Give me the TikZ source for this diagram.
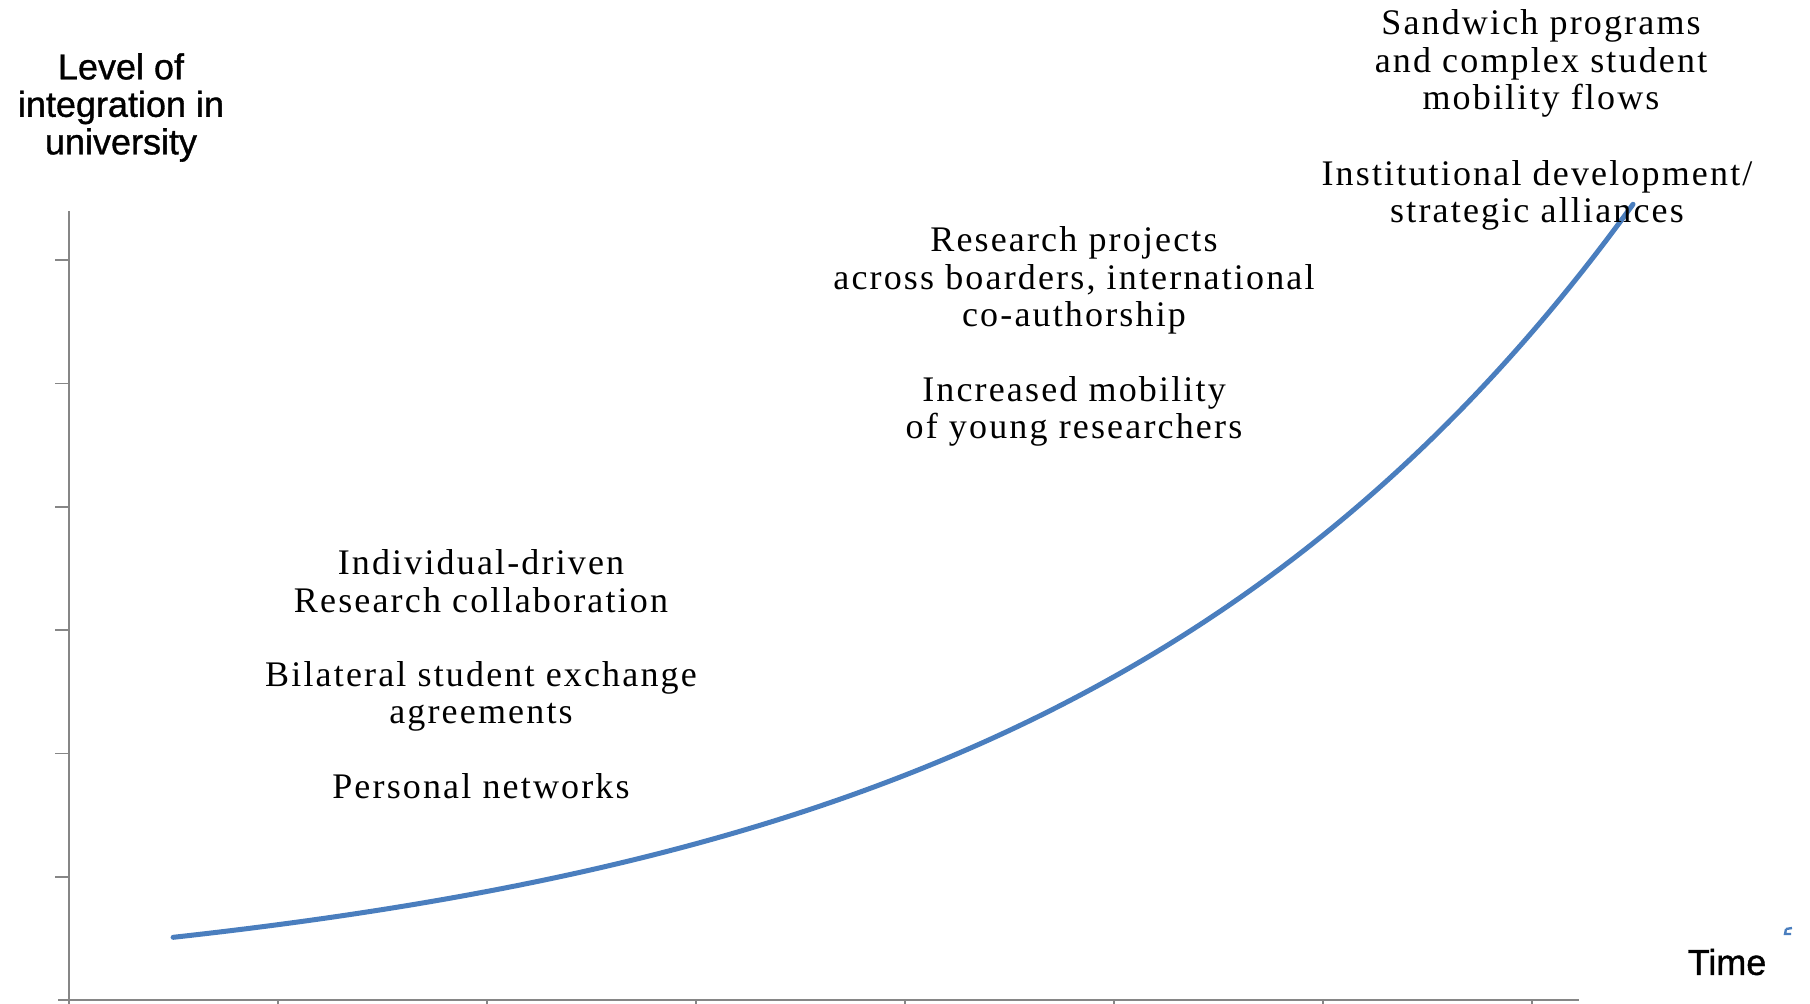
\documentclass[tikz,border=0pt]{standalone}
\usepackage{fontspec}
\setmainfont{Liberation Serif}
\newfontfamily\labelserif[LetterSpace=6]{Liberation Serif}
\newfontfamily\axisfont[FakeBold=1]{Liberation Sans}
\definecolor{curveblue}{RGB}{74,126,190}
\definecolor{axisgray}{RGB}{134,134,134}
\tikzset{
  stage/.style={align=center, inner sep=0pt,
    font=\labelserif\fontsize{18}{18.75}\selectfont},
  axislabel/.style={align=center, inner sep=0pt,
    font=\axisfont\fontsize{18}{18.75}\selectfont},
  axisline/.style={draw=axisgray, line width=0.8pt},
  growth/.style={draw=curveblue, line width=2.5pt, line cap=round},
}
\begin{document}
\begin{tikzpicture}[x=0.5pt, y=-0.5pt]
\useasboundingbox (0,0) rectangle (1810,1003);

% axes
\coordinate (yTop) at (69,211);
\coordinate (origin) at (69,1000);
\coordinate (xEnd) at (1579,1000);
\draw[axisline] (yTop) -- (origin);
\draw[axisline] (58,1000) -- (xEnd);
\foreach \k in {1,...,6}
  \draw[axisline] (55,{1000-123.3*\k}) -- (69,{1000-123.3*\k});
\foreach \k in {0,...,7}
  \draw[axisline] ({69+209*\k},1000) -- ({69+209*\k},1010);

% growth curve
\draw[growth] plot[domain=173.1:1633, samples=120, smooth]
  (\x, {937.3 - 63.5*(exp((\x-173.1)/577.2)-1)});

% small marker fragment near the time label
\draw[curveblue, line width=1.2pt] (1786,929) -- (1792,928) (1786,929) -- (1785,934) -- (1791,934);

% axis labels
\node[axislabel] (ylab) at (121,107.5) {Level of\\integration in\\university};
\node[axislabel] (xlab) at (1727,962) {Time};

% stage descriptions
\node[stage] (sandwich) at (1541,63.5) {Sandwich programs\\and complex student\\mobility flows};
\node[stage] (institutional) at (1537,195.5) {Institutional development/\\strategic alliances};
\node[stage] (research) at (1074,280.5) {Research projects\\across boarders, international\\co-authorship};
\node[stage] (mobility) at (1074,411.5) {Increased mobility\\of young researchers};
\node[stage] (individual) at (481,581) {Individual-driven\\Research collaboration};
\node[stage] (bilateral) at (481,696.5) {Bilateral student exchange\\agreements};
\node[stage] (personal) at (481,786) {Personal networks};
\end{tikzpicture}
\end{document}
